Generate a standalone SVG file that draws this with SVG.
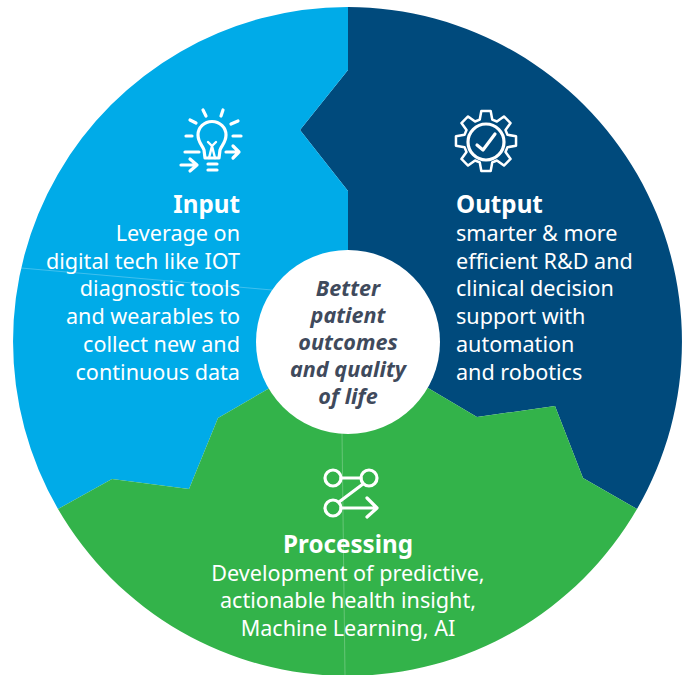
<svg xmlns="http://www.w3.org/2000/svg" width="688" height="675" viewBox="0 0 688 675">
<style>
text{font-family:"Noto Sans","Open Sans","Liberation Sans",sans-serif;fill:#fff;font-size:21.6px}
.h{font-weight:700;font-size:24.2px}
.r{text-anchor:end}.m{text-anchor:middle}
.ic{fill:none;stroke:#fff;stroke-width:3.200;stroke-linecap:round;stroke-linejoin:round}
.c{font-weight:700;font-style:italic;fill:#3f4a5c;text-anchor:middle;font-size:21.600px}
.seam{fill:none;stroke:#fff;stroke-opacity:.25;stroke-width:1}
</style>
<g id="output">
<path fill="#004a7c" d="M348 7A334.5 334.5 0 0 1 637 509L583 478L555 406L477 417L428 388L348 341L348 191L300 130L348 70Z"/>
<path class="ic" d="M478 122.500L480 111.500L492 111.500L494 122.500L500 125L509 118.500L517.500 127L511 136L513.500 142L524.500 144L524.500 156L513.500 158L511 164L517.500 173L509 181.500L500 175L494 177.500L492 188.500L480 188.500L478 177.500L472 175L463 181.500L454.500 173L461 164L458.500 158L447.500 156L447.500 144L458.500 142L461 136L454.500 127L463 118.500L472 125Z" transform="translate(486 141) scale(.78) translate(-486 -150)" stroke-width="4.100"/>
<circle class="ic" cx="486" cy="142" r="18"/>
<path class="ic" d="M477 145L483 150L495 134" stroke-width="2.800"/>
<text class="h" x="456" y="212.600">Output</text>
<text x="456" y="240.600">smarter &amp; more</text>
<text x="456" y="268.600">efficient R&amp;D and</text>
<text x="456" y="295.600">clinical decision</text>
<text x="456" y="323.600">support with</text>
<text x="456" y="351.600">automation</text>
<text x="456" y="379.600">and robotics</text>
</g>
<g id="input">
<path fill="#00abe8" d="M348 7A334.500 334.500 0 0 0 58 509L112 479L189 489L218 418L268 389L348 341L348 191L300 130L348 70Z"/>
<path class="seam" d="M21 268L272 290"/>
<g class="ic">
<path d="M205 158L204 150C202 145 198 142 198 135A14 13.500 0 0 1 226 135C226 142 222 145 220 150L219 158Z"/>
<path d="M208 142L212 146L216 142M209 158L212 146L215 158" stroke-width="2.400"/>
<path d="M208 164H217M208 170H217M203 110L206 116M223 110L221 116M190 120L196 123M238 121L231 124M186 136H192M233 136H241M185 152H199M181 165H197M190 159L197 165L190 171M226 152H239M233 146L239 152L233 158"/>
</g>
<text class="h r" x="240" y="212.600">Input</text>
<text class="r" x="240" y="240.600">Leverage on</text>
<text class="r" x="240" y="268.600">digital tech like IOT</text>
<text class="r" x="240" y="295.600">diagnostic tools</text>
<text class="r" x="240" y="323.600">and wearables to</text>
<text class="r" x="240" y="351.600">collect new and</text>
<text class="r" x="240" y="379.600">continuous data</text>
</g>
<g id="processing">
<path fill="#33b34a" d="M58 509L112 479L189 489L218 418L268 389L348 341L428 388L477 417L555 406L583 478L637 509A334.500 334.500 0 0 1 58 509Z"/>
<path class="seam" d="M342 433L345 675"/>
<g class="ic">
<circle cx="333" cy="478" r="8"/>
<circle cx="369" cy="478" r="8"/>
<circle cx="333" cy="508" r="8"/>
<path d="M341 478H361M363 484L339 502M341 508H376M367 498L377 508L367 517"/>
</g>
<text class="h m" x="348" y="552.600">Processing</text>
<text class="m" x="348" y="580.600">Development of predictive,</text>
<text class="m" x="348" y="607.600">actionable health insight,</text>
<text class="m" x="348" y="635.600">Machine Learning, AI</text>
</g>
<g id="center">
<circle cx="348" cy="342" r="92" fill="#fff"/>
<text class="c" x="348" y="296">Better</text>
<text class="c" x="348" y="323">patient</text>
<text class="c" x="348" y="350">outcomes</text>
<text class="c" x="348" y="377">and quality</text>
<text class="c" x="348" y="404">of life</text>
</g>
</svg>
